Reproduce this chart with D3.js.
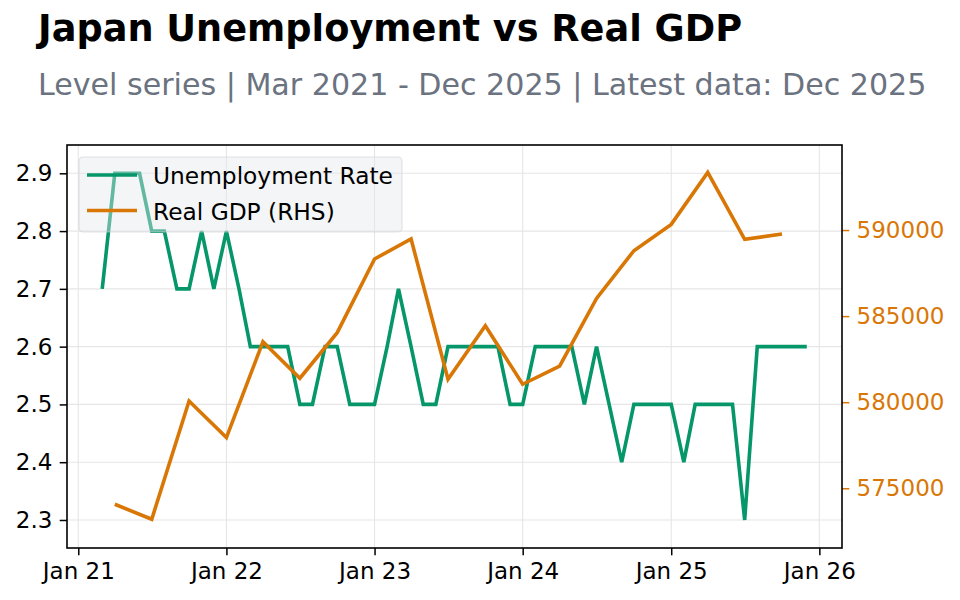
<!DOCTYPE html>
<html>
<head>
<meta charset="utf-8">
<script src="https://cdn.jsdelivr.net/npm/d3@7"></script>
<style>
  body { margin: 0; background: #fff; }
  svg { display: block; font-family: 'DejaVu Sans', sans-serif; }
</style>
</head>
<body>
<svg id="chart" width="960" height="600"></svg>
<script>
// monthly unemployment rate, Mar 2021 - Dec 2025
const unempMonths = [
  '2021-03', '2021-04', '2021-05', '2021-06', '2021-07', '2021-08', '2021-09', '2021-10', '2021-11', '2021-12',
  '2022-01', '2022-02', '2022-03', '2022-04', '2022-05', '2022-06', '2022-07', '2022-08', '2022-09', '2022-10', '2022-11', '2022-12',
  '2023-01', '2023-02', '2023-03', '2023-04', '2023-05', '2023-06', '2023-07', '2023-08', '2023-09', '2023-10', '2023-11', '2023-12',
  '2024-01', '2024-02', '2024-03', '2024-04', '2024-05', '2024-06', '2024-07', '2024-08', '2024-09', '2024-10', '2024-11', '2024-12',
  '2025-01', '2025-02', '2025-03', '2025-04', '2025-05', '2025-06', '2025-07', '2025-08', '2025-09', '2025-10', '2025-11', '2025-12',
];
const unempRate = [
  2.7, 2.9, 2.9, 2.9, 2.8, 2.8, 2.7, 2.7, 2.8, 2.7,
  2.8, 2.7, 2.6, 2.6, 2.6, 2.6, 2.5, 2.5, 2.6, 2.6, 2.5, 2.5,
  2.5, 2.6, 2.7, 2.6, 2.5, 2.5, 2.6, 2.6, 2.6, 2.6, 2.6, 2.5,
  2.5, 2.6, 2.6, 2.6, 2.6, 2.5, 2.6, 2.5, 2.4, 2.5, 2.5, 2.5,
  2.5, 2.4, 2.5, 2.5, 2.5, 2.5, 2.3, 2.6, 2.6, 2.6, 2.6, 2.6,
];

// quarterly real GDP (quarter start dates)
const gdpQuarters = [
  '2021-04', '2021-07', '2021-10',
  '2022-01', '2022-04', '2022-07', '2022-10',
  '2023-01', '2023-04', '2023-07', '2023-10',
  '2024-01', '2024-04', '2024-07', '2024-10',
  '2025-01', '2025-04', '2025-07', '2025-10',
];
const gdpValues = [
  574070, 573200, 580070,
  577940, 583510, 581390, 584040,
  588320, 589480, 581330, 584440,
  581040, 582100, 586030, 588800,
  590330, 593350, 589460, 589770,
];

const leftTicks = [2.3, 2.4, 2.5, 2.6, 2.7, 2.8, 2.9];
const rightTicks = [575000, 580000, 585000, 590000];
const seriesNames = ['Unemployment Rate', 'Real GDP (RHS)'];

const green = '#059669';
const orange = '#d97706';

const parseMonth = d3.timeParse('%Y-%m');
const unemp = unempMonths.map((m, i) => ({ date: parseMonth(m), value: unempRate[i] }));
const gdp = gdpQuarters.map((m, i) => ({ date: parseMonth(m), value: gdpValues[i] }));

const svg = d3.select('#chart');
const plot = { left: 67, right: 842, top: 145, bottom: 548 };

// matplotlib style 5% padding on the time range
const [d0, d1] = d3.extent(unemp, (d) => d.date);
const pad = (d1 - d0) * 0.05;
const x = d3.scaleTime()
  .domain([new Date(+d0 - pad), new Date(+d1 + pad)])
  .range([plot.left, plot.right]);
const yL = d3.scaleLinear().domain([2.2515, 2.949]).range([plot.bottom, plot.top]);
const yR = d3.scaleLinear().domain([571530, 594940]).range([plot.bottom, plot.top]);

svg.append('text')
  .attr('x', 38).attr('y', 41)
  .attr('font-size', 36.7).attr('font-weight', 'bold').attr('fill', '#000')
  .text('Japan Unemployment vs Real GDP');
svg.append('text')
  .attr('x', 38).attr('y', 95)
  .attr('font-size', 30.1).attr('fill', '#6b7280')
  .text('Level series | Mar 2021 - Dec 2025 | Latest data: Dec 2025');

const yearTicks = x.ticks(d3.timeYear.every(1));

// grid
const grid = svg.append('g').attr('stroke', '#e6e6e6').attr('stroke-width', 1.1);
grid.selectAll('line.v').data(yearTicks).join('line')
  .attr('class', 'v')
  .attr('x1', (d) => x(d)).attr('x2', (d) => x(d))
  .attr('y1', plot.top).attr('y2', plot.bottom);
grid.selectAll('line.h').data(leftTicks).join('line')
  .attr('class', 'h')
  .attr('x1', plot.left).attr('x2', plot.right)
  .attr('y1', (d) => yL(d)).attr('y2', (d) => yL(d));

// lines
const unempLine = d3.line().x((d) => x(d.date)).y((d) => yL(d.value));
const gdpLine = d3.line().x((d) => x(d.date)).y((d) => yR(d.value));

svg.append('path')
  .datum(unemp)
  .attr('d', unempLine)
  .attr('fill', 'none').attr('stroke', green).attr('stroke-width', 3.6)
  .attr('stroke-linejoin', 'miter').attr('stroke-linecap', 'butt');
svg.append('path')
  .datum(gdp)
  .attr('d', gdpLine)
  .attr('fill', 'none').attr('stroke', orange).attr('stroke-width', 3.6)
  .attr('stroke-linejoin', 'miter').attr('stroke-linecap', 'butt');

// axes
const tickStyle = (g, color) => {
  g.select('.domain').remove();
  g.selectAll('.tick line').attr('stroke', color).attr('stroke-width', 1.5);
  g.selectAll('.tick text').attr('fill', color).attr('font-size', 23)
    .attr('font-family', "'DejaVu Sans', sans-serif");
};

svg.append('g')
  .attr('transform', `translate(0,${plot.bottom})`)
  .call(d3.axisBottom(x).tickValues(yearTicks).tickFormat(d3.timeFormat('%b %y'))
    .tickSizeInner(7.3).tickSizeOuter(0).tickPadding(7.3))
  .call((g) => tickStyle(g, '#000'));

svg.append('g')
  .attr('transform', `translate(${plot.left},0)`)
  .call(d3.axisLeft(yL).tickValues(leftTicks).tickFormat(d3.format('.1f'))
    .tickSizeInner(7.3).tickSizeOuter(0).tickPadding(7.3))
  .call((g) => tickStyle(g, '#000'));

svg.append('g')
  .attr('transform', `translate(${plot.right},0)`)
  .call(d3.axisRight(yR).tickValues(rightTicks).tickFormat(d3.format('d'))
    .tickSizeInner(7.3).tickSizeOuter(0).tickPadding(7.3))
  .call((g) => tickStyle(g, orange));

// frame
svg.append('rect')
  .attr('x', plot.left).attr('y', plot.top)
  .attr('width', plot.right - plot.left).attr('height', plot.bottom - plot.top)
  .attr('fill', 'none').attr('stroke', '#000').attr('stroke-width', 1.6);

// legend
const legend = svg.append('g').attr('transform', 'translate(79,157)');
legend.append('rect')
  .attr('width', 323).attr('height', 75).attr('rx', 4)
  .attr('fill', '#e5e7eb').attr('fill-opacity', 0.42)
  .attr('stroke', '#cfd3d8').attr('stroke-opacity', 0.6).attr('stroke-width', 1.2);
[green, orange].forEach((c, i) => {
  legend.append('line')
    .attr('x1', 8).attr('x2', 58)
    .attr('y1', 18 + 35.5 * i).attr('y2', 18 + 35.5 * i)
    .attr('stroke', c).attr('stroke-width', 3.6);
  legend.append('text')
    .attr('x', 74).attr('y', 27 + 35.5 * i)
    .attr('font-size', 23.3).attr('fill', '#000')
    .text(seriesNames[i]);
});
</script>
</body>
</html>
